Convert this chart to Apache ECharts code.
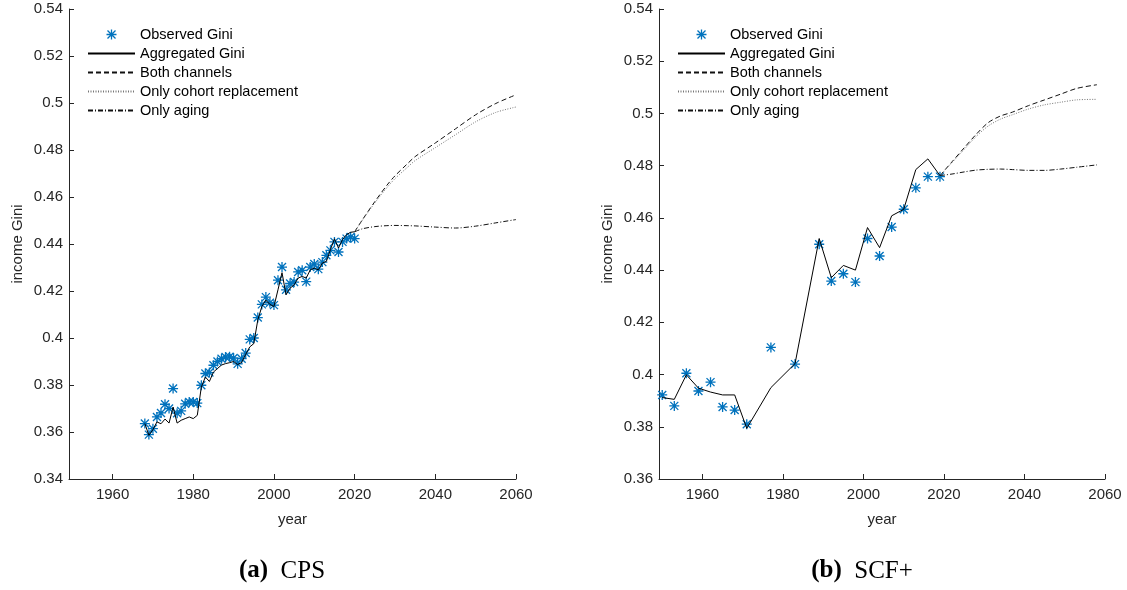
<!DOCTYPE html>
<html>
<head>
<meta charset="utf-8">
<script src="https://cdn.jsdelivr.net/npm/echarts@6/dist/echarts.min.js"></script>
<style>
html,body{margin:0;padding:0;background:#fff;}
#main{width:1127px;height:590px;}
</style>
</head>
<body>
<div id="main"></div>
<script>
// ---------- data ----------
const cpsYears = [1968,1969,1970,1971,1972,1973,1974,1975,1976,1977,1978,1979,1980,1981,1982,1983,1984,1985,1986,1987,1988,1989,1990,1991,1992,1993,1994,1995,1996,1997,1998,1999,2000,2001,2002,2003,2004,2005,2006,2007,2008,2009,2010,2011,2012,2013,2014,2015,2016,2017,2018,2019,2020];
const cpsObserved = [0.3636,0.3589,0.3614,0.3664,0.3681,0.3718,0.3700,0.3785,0.3680,0.3690,0.3720,0.3728,0.3728,0.3723,0.3799,0.3849,0.3853,0.3884,0.3900,0.3912,0.3919,0.3920,0.3915,0.3890,0.3912,0.3936,0.3994,0.4000,0.4087,0.4143,0.4174,0.4150,0.4140,0.4246,0.4302,0.4205,0.4232,0.4238,0.4281,0.4288,0.4240,0.4302,0.4315,0.4293,0.4323,0.4352,0.4373,0.4409,0.4366,0.4409,0.4423,0.4430,0.4423];
const cpsAggregated = [0.3636,0.3586,0.3610,0.3643,0.3635,0.3655,0.3638,0.3706,0.3638,0.3650,0.3657,0.3664,0.3657,0.3671,0.3791,0.3834,0.3815,0.3855,0.3870,0.3885,0.3891,0.3895,0.3900,0.3887,0.3896,0.3930,0.3962,0.3976,0.4077,0.4134,0.4161,0.4143,0.4134,0.4205,0.4278,0.4184,0.4212,0.4226,0.4255,0.4262,0.4255,0.4290,0.4297,0.4290,0.4319,0.4326,0.4376,0.4422,0.4383,0.4419,0.4440,0.4450,0.4452];
const cpsProjYears = [2020,2022,2025,2028,2030,2033,2035,2040,2045,2050,2055,2060];
const cpsBoth   = [0.4452,0.4505,0.4580,0.4650,0.4690,0.4740,0.4772,0.4830,0.4890,0.4950,0.4998,0.5035];
const cpsCohort = [0.4452,0.4503,0.4575,0.4640,0.4678,0.4725,0.4755,0.4810,0.4865,0.4920,0.4960,0.4983];
const cpsAging  = [0.4452,0.4465,0.4474,0.4478,0.4479,0.4478,0.4477,0.4472,0.4468,0.4476,0.4490,0.4504];

const scfYears = [1950,1953,1956,1959,1962,1965,1968,1971,1977,1983,1989,1992,1995,1998,2001,2004,2007,2010,2013,2016,2019];
const scfObserved = [0.3922,0.3880,0.4005,0.3937,0.3971,0.3876,0.3864,0.3810,0.4104,0.4040,0.4499,0.4358,0.4386,0.4354,0.4521,0.4454,0.4565,0.4633,0.4715,0.4758,0.4758];
const scfAggregated = [0.3912,0.3905,0.3999,0.3948,0.3933,0.3922,0.3922,0.3794,0.3950,0.4042,0.4521,0.4371,0.4418,0.4400,0.4563,0.4486,0.4608,0.4633,0.4785,0.4826,0.4762];
const scfProjYears = [2019,2022,2025,2028,2031,2034,2037,2041,2045,2049,2053,2058];
const scfBoth   = [0.4762,0.4815,0.4868,0.4920,0.4965,0.4990,0.5005,0.5030,0.5052,0.5074,0.5096,0.5110];
const scfCohort = [0.4762,0.4812,0.4862,0.4912,0.4952,0.4978,0.4995,0.5017,0.5033,0.5043,0.5052,0.5054];
const scfAging  = [0.4762,0.4768,0.4776,0.4783,0.4786,0.4787,0.4785,0.4782,0.4782,0.4787,0.4794,0.4803];

const xTicks = [1960,1980,2000,2020,2040,2060];
const seriesNames = ['Observed Gini','Aggregated Gini','Both channels','Only cohort replacement','Only aging'];
const captions = [['(a)','CPS'],['(b)','SCF+']];

// ---------- helpers ----------
const zip = (xs, ys) => xs.map((x, i) => [x, ys[i]]);
const star = 'path://M0 8.7L20 8.7L20 11.3L0 11.3Z M8.7 0L11.3 0L11.3 20L8.7 20Z M2.92 1.08L18.92 17.08L17.08 18.92L1.08 2.92Z M17.08 1.08L18.92 2.92L2.92 18.92L1.08 17.08Z';
const axisColor = '#262626';
const font = 'Liberation Sans, Arial, sans-serif';

function xAxis(idx){
  return {
    type:'value', gridIndex:idx, min:1949.2, max:2060,
    axisLine:{show:true, onZero:false, lineStyle:{color:axisColor, width:1}},
    axisTick:{show:true, inside:true, length:5, customValues:xTicks, lineStyle:{color:axisColor}},
    axisLabel:{customValues:xTicks, color:axisColor, fontSize:15, fontFamily:font, margin:8,
      formatter: v => String(Math.round(v))},
    splitLine:{show:false},
    name:'year', nameLocation:'middle', nameGap:33,
    nameTextStyle:{fontSize:15, color:axisColor, fontFamily:font}
  };
}
function yAxis(idx, min){
  return {
    type:'value', gridIndex:idx, min:min, max:0.54, interval:0.02,
    axisLine:{show:true, onZero:false, lineStyle:{color:axisColor, width:1}},
    axisTick:{show:true, inside:true, length:5, lineStyle:{color:axisColor}},
    axisLabel:{color:axisColor, fontSize:15, fontFamily:font, margin:6,
      formatter: v => String(parseFloat(v.toFixed(2)))},
    splitLine:{show:false},
    name:'income Gini', nameLocation:'middle', nameGap:44,
    nameTextStyle:{fontSize:15, color:axisColor, fontFamily:font}
  };
}
function seriesFor(idx, yrs, obs, agg, pYrs, both, coh, aging){
  return [
    {name:seriesNames[0], type:'scatter', xAxisIndex:idx, yAxisIndex:idx, data:zip(yrs, obs),
      symbol:star, symbolSize:10, itemStyle:{color:'#0072BD', opacity:1}, z:2},
    {name:seriesNames[1], type:'line', xAxisIndex:idx, yAxisIndex:idx, data:zip(yrs, agg),
      symbol:'none', lineStyle:{color:'#000', width:1}, itemStyle:{color:'#000'}, z:3},
    {name:seriesNames[2], type:'line', xAxisIndex:idx, yAxisIndex:idx, data:zip(pYrs, both),
      symbol:'none', smooth:0.3, lineStyle:{color:'#111', width:1, type:[5,3]}, itemStyle:{color:'#111'}, z:3},
    {name:seriesNames[3], type:'line', xAxisIndex:idx, yAxisIndex:idx, data:zip(pYrs, coh),
      symbol:'none', smooth:0.3, lineStyle:{color:'#777', width:1, type:[1,1.5]}, itemStyle:{color:'#777'}, z:3},
    {name:seriesNames[4], type:'line', xAxisIndex:idx, yAxisIndex:idx, data:zip(pYrs, aging),
      symbol:'none', smooth:0.3, lineStyle:{color:'#111', width:1, type:[5,2,1,2]}, itemStyle:{color:'#111'}, z:3}
  ];
}
function legend(left){
  return {
    orient:'vertical', left:left, top:22, itemWidth:47, itemHeight:10, itemGap:4, itemTextGap:4,
    selectedMode:false,
    data: seriesNames.map((n, i) => i === 0 ? {name:n} : {name:n, itemStyle:{opacity:0}}),
    textStyle:{fontSize:14.5, color:'#000', fontFamily:font}
  };
}
function caption(cx, pair){
  return {type:'text', x:cx, y:571, style:{
    text:'{b|' + pair[0] + '}  ' + pair[1],
    align:'center', verticalAlign:'middle',
    fontSize:25, fontFamily:'Liberation Serif, Times New Roman, serif', fill:'#000',
    rich:{b:{fontWeight:'bold', fontSize:25, fontFamily:'Liberation Serif, Times New Roman, serif', fill:'#000'}}
  }};
}

const chart = echarts.init(document.getElementById('main'), null, {renderer:'canvas'});
chart.setOption({
  animation:false,
  backgroundColor:'#fff',
  grid:[
    {left:69, top:9, width:447, height:470},
    {left:659, top:9, width:446, height:470}
  ],
  xAxis:[xAxis(0), xAxis(1)],
  yAxis:[yAxis(0, 0.34), yAxis(1, 0.36)],
  legend:[legend(82), legend(672)],
  series:[
    ...seriesFor(0, cpsYears, cpsObserved, cpsAggregated, cpsProjYears, cpsBoth, cpsCohort, cpsAging),
    ...seriesFor(1, scfYears, scfObserved, scfAggregated, scfProjYears, scfBoth, scfCohort, scfAging)
  ],
  graphic:[caption(282, captions[0]), caption(862, captions[1])]
});
</script>
</body>
</html>
